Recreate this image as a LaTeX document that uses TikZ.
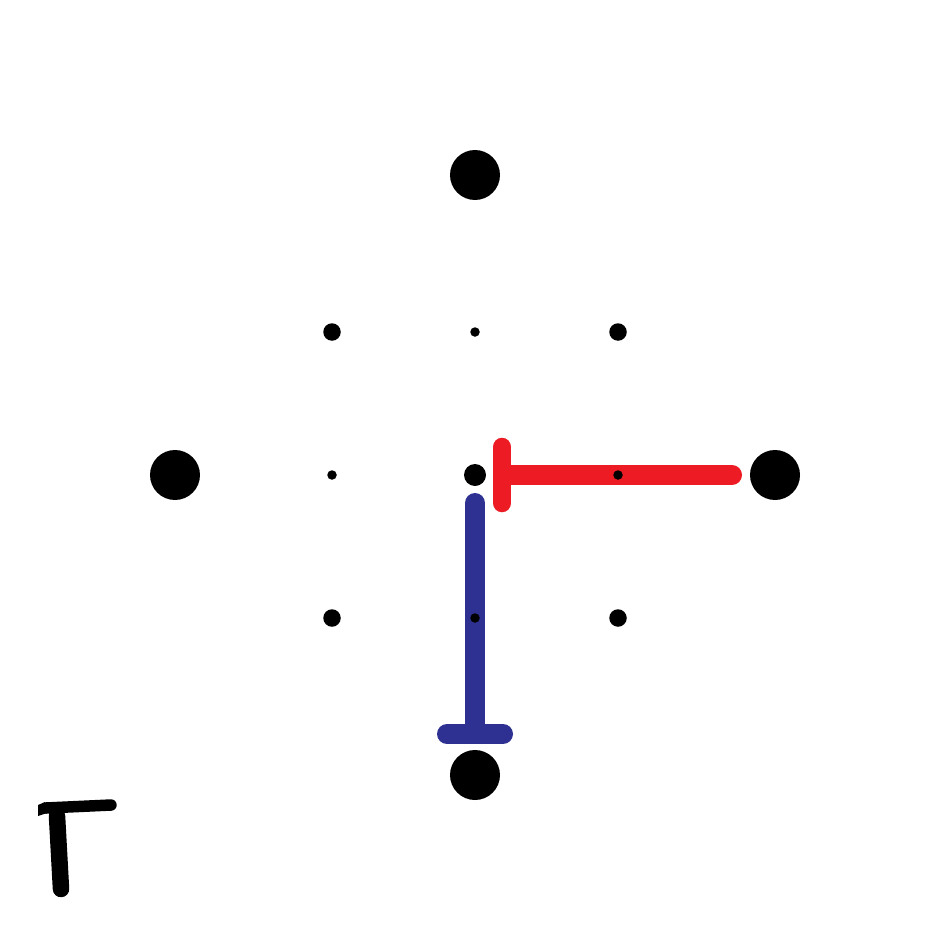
\documentclass[tikz,border=0pt]{standalone}
\definecolor{tred}{HTML}{ED1C24}
\definecolor{tblue}{HTML}{2E3192}
\begin{document}
\begin{tikzpicture}[x=0.02cm,y=-0.02cm,
  dotbase/.style={circle,fill=black,inner sep=0pt,draw=none},
  bigdot/.style={dotbase,minimum size=1cm},
  middot/.style={dotbase,minimum size=0.44cm},
  cornerdot/.style={dotbase,minimum size=0.35cm},
  smalldot/.style={dotbase,minimum size=0.19cm},
  bar/.style={line width=0.4cm,line cap=round},
  pen/.style={line cap=round,line join=round,black}]
\fill[white] (0,0) rectangle (950,950);
\useasboundingbox (0,0) rectangle (950,950);
% red T
\coordinate (r1) at (512,475);
\coordinate (r2) at (732,475);
\coordinate (r3) at (502,447);
\coordinate (r4) at (502,503);
\draw[bar,tred] (r1) -- (r2);
\draw[bar,tred,line width=0.37cm] (r3) -- (r4);
% blue T
\coordinate (b1) at (475,503);
\coordinate (b2) at (475,728);
\coordinate (b3) at (447,734);
\coordinate (b4) at (503,734);
\draw[bar,tblue] (b1) -- (b2);
\draw[bar,tblue] (b3) -- (b4);
% dots
\node[bigdot] (top) at (475,175) {};
\node[bigdot] (left) at (175,475) {};
\node[bigdot] (right) at (775,475) {};
\node[bigdot] (bottom) at (475,775) {};
\node[middot] (center) at (475,475) {};
\node[cornerdot] (tl) at (332,332) {};
\node[cornerdot] (tr) at (618,332) {};
\node[cornerdot] (bl) at (332,618) {};
\node[cornerdot] (br) at (618,618) {};
\node[smalldot] (tm) at (475,332) {};
\node[smalldot] (lm) at (332,475) {};
\node[smalldot] (rm) at (618,475) {};
\node[smalldot] (bm) at (475,618) {};
% Gamma
\coordinate (g1) at (57,816);
\coordinate (g2) at (61,889);
\coordinate (g3) at (46,808);
\coordinate (g4) at (111,805);
\draw[pen,line width=0.33cm] (g1) -- (g2);
\draw[pen,line width=0.23cm] (g3) -- (g4);
\fill[black] (38,805) -- (45,802) -- (50,812) -- (38,816) -- cycle;
\end{tikzpicture}
\end{document}
